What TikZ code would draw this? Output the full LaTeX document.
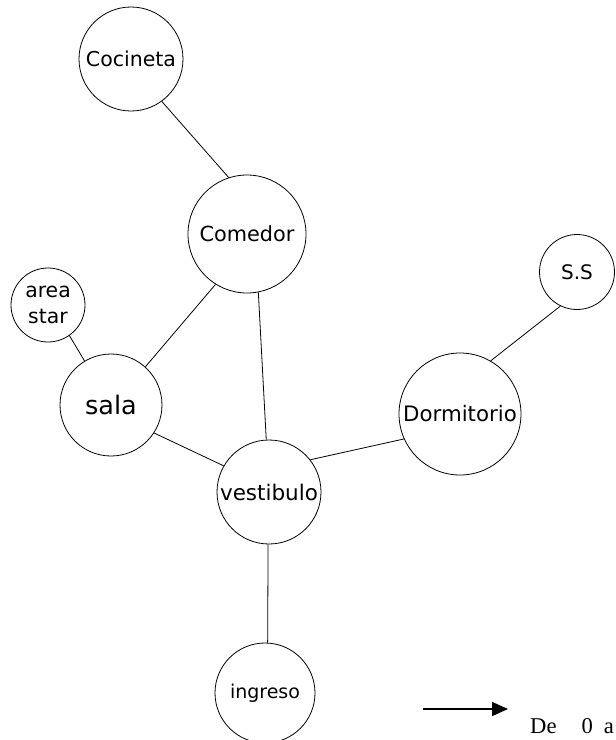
\documentclass[tikz,border=0pt]{standalone}
\usepackage{fontspec}
\setmainfont{Liberation Serif}
\newfontfamily\roomfont{DejaVu Sans}
\usetikzlibrary{arrows.meta}
\tikzset{
  room/.style={draw, circle, line width=0.8pt, inner sep=0pt, align=center},
  link/.style={line width=0.8pt},
  scaleArrow/.style={-{Triangle[length=16pt,width=14pt]}, line width=1.6pt}
}

\begin{document}
\begin{tikzpicture}[x=1pt,y=-1pt]
  \useasboundingbox (0,0) rectangle (616,740);
  % rooms
  \node[room, minimum size=104pt, font=\roomfont\fontsize{20.5}{24}\selectfont] (cocineta) at (131,59) {Cocineta};
  \node[room, minimum size=118pt, font=\roomfont\fontsize{20.8}{24}\selectfont] (comedor) at (247,234) {Comedor};
  \node[room, minimum size=74pt, font=\roomfont\fontsize{20.4}{26}\selectfont] (areaStar) at (48,305) {area\\star};
  \node[room, minimum size=102pt, font=\roomfont\fontsize{25.5}{28}\selectfont] (sala) at (111,405) {sala};
  \node[room, minimum size=104pt, font=\roomfont\fontsize{21.5}{24}\selectfont] (vestibulo) at (269,492) {vestibulo};
  \node[room, minimum size=122pt, font=\roomfont\fontsize{21.3}{24}\selectfont] (dormitorio) at (460,414) {Dormitorio};
  \node[room, minimum size=75pt, font=\roomfont\fontsize{20}{24}\selectfont] (ss) at (577,272) {S.S};
  \node[room, minimum size=100pt, font=\roomfont\fontsize{19}{22}\selectfont] (ingreso) at (265,693) {ingreso};

  % links between rooms
  \draw[link] (cocineta.-54) -- (comedor.108);
  \draw[link] (comedor.238) -- (sala.48);
  \draw[link] (comedor.-79) -- (vestibulo.93);
  \draw[link] (areaStar.-55) -- (sala.121);
  \draw[link] (sala.-33) -- (vestibulo.150);
  \draw[link] (dormitorio.204) -- (vestibulo.38);
  \draw[link] (ss.244) -- (dormitorio.60);
  \draw[link] (vestibulo.-91) -- (ingreso.87);

  % scale note
  \coordinate (arrowTail) at (423,709);
  \coordinate (arrowTip) at (508,709);
  \draw[scaleArrow] (arrowTail) -- (arrowTip);
  \node[anchor=base west, inner sep=0pt, font=\fontsize{22.6}{26}\selectfont] (scaleText) at (530,733) {De\hspace{25pt}0\hspace{11pt}a};
\end{tikzpicture}
\end{document}
